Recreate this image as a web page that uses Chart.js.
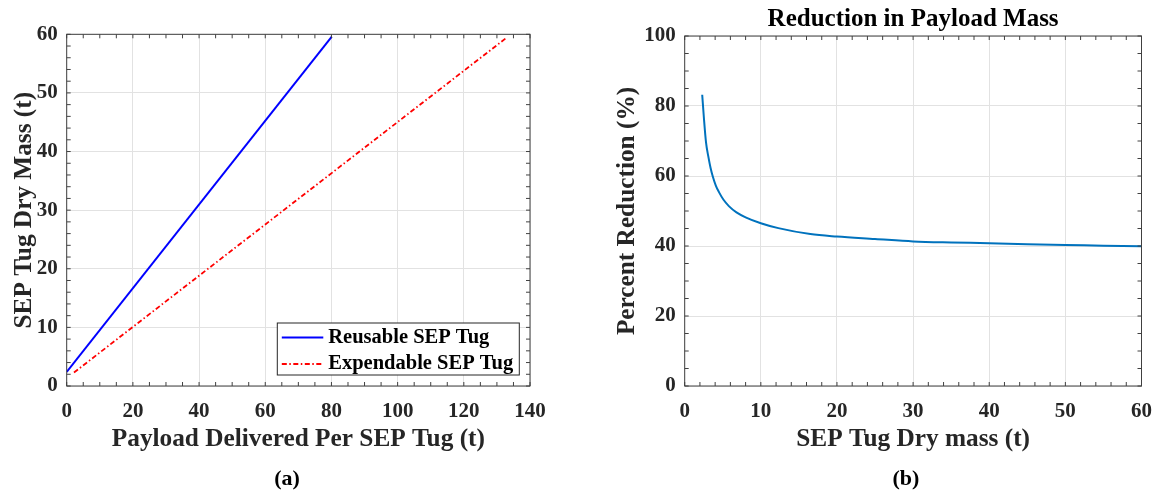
<!DOCTYPE html>
<html>
<head>
<meta charset="utf-8">
<script src="https://cdn.jsdelivr.net/npm/chart.js@4/dist/chart.umd.min.js"></script>
<style>
  body { margin: 0; background: #fff; width: 1165px; height: 492px; position: relative; overflow: hidden; }
  canvas { position: absolute; top: 0; }
  #chartA { left: 0; }
  #chartB { left: 600px; }
  .cap { position: absolute; top: 465px; width: 100px; height: 30px; line-height: 30px; text-align: center;
         font: bold 22px 'Liberation Serif', 'Times New Roman', serif; color: #000; }
</style>
</head>
<body>
<canvas id="chartA" width="580" height="470"></canvas>
<canvas id="chartB" width="565" height="470"></canvas>
<div class="cap" style="left:237px">(a)</div>
<div class="cap" style="left:856px">(b)</div>
<script>
// (a) dry mass vs payload, straight lines
var reusablePayload = [0, 80.1];
var reusableDryMass = [2.4, 59.6];
var expendablePayload = [2.2, 133.1];
var expendableDryMass = [2.3, 59.5];
var xTicksA = [0, 20, 40, 60, 80, 100, 120, 140];
var yTicksA = [0, 10, 20, 30, 40, 50, 60];

// (b) percent reduction in payload vs tug dry mass
var tugDryMass = [2.3, 2.5, 2.8, 3.1, 3.4, 3.7, 4.1, 4.5, 5.1, 5.8, 6.8, 8, 10, 12.3, 16.5, 20, 25, 30, 35, 40, 45, 50, 55, 60];
var percentReduction = [83.2, 77.2, 69.6, 65.6, 62.3, 59.8, 57.2, 55.4, 53.2, 51.4, 49.6, 48.2, 46.5, 45.1, 43.4, 42.7, 42.0, 41.3, 41.0, 40.8, 40.5, 40.3, 40.1, 39.9];
var xTicksB = [0, 10, 20, 30, 40, 50, 60];
var yTicksB = [0, 20, 40, 60, 80, 100];

var FONT = "'Liberation Serif', 'Times New Roman', serif";
Chart.defaults.font.family = FONT;
Chart.defaults.color = '#262626';

function pts(xs, ys) {
	var out = [];
	for (var i in xs) out.push({x: xs[i], y: ys[i]});
	return out;
}

// matlab-ish box: frame plus inward ticks on all four sides
var frameTicks = {
	id: 'frameTicks',
	afterDraw: function(chart, args, opts) {
		var ctx = chart.ctx, a = chart.chartArea;
		var x = chart.scales.x, y = chart.scales.y;
		var len = 4, v, p;
		ctx.save();
		ctx.strokeStyle = '#404040';
		ctx.lineWidth = 1;
		ctx.beginPath();
		for (v = x.min; v <= x.max + 1e-6; v += opts.xMinor) {
			p = x.getPixelForValue(v);
			ctx.moveTo(p, a.bottom); ctx.lineTo(p, a.bottom - len);
			ctx.moveTo(p, a.top); ctx.lineTo(p, a.top + len);
		}
		for (v = y.min; v <= y.max + 1e-6; v += opts.yMinor) {
			p = y.getPixelForValue(v);
			ctx.moveTo(a.left, p); ctx.lineTo(a.left + len, p);
			ctx.moveTo(a.right, p); ctx.lineTo(a.right - len, p);
		}
		ctx.stroke();
		ctx.strokeRect(a.left, a.top, a.right - a.left, a.bottom - a.top);
		ctx.restore();
	}
};

// legend box sitting inside the plot, lower right
var boxLegend = {
	id: 'boxLegend',
	afterDraw: function(chart, args, opts) {
		if (!opts.show) return;
		var ctx = chart.ctx, a = chart.chartArea;
		var right = a.right - opts.marginRight, bottom = a.bottom - opts.marginBottom;
		var left = right - opts.width, top = bottom - opts.height;
		ctx.save();
		ctx.fillStyle = '#fff';
		ctx.fillRect(left, top, opts.width, opts.height);
		ctx.strokeStyle = '#262626';
		ctx.lineWidth = 1;
		ctx.strokeRect(left, top, opts.width, opts.height);
		ctx.font = 'bold 20.5px ' + FONT;
		ctx.textBaseline = 'middle';
		ctx.fillStyle = '#000';
		chart.data.datasets.forEach(function(ds, i) {
			var cy = top + opts.rowY[i];
			ctx.strokeStyle = ds.borderColor;
			ctx.lineWidth = ds.borderWidth;
			ctx.setLineDash(ds.borderDash || []);
			ctx.beginPath();
			ctx.moveTo(left + 4.5, cy);
			ctx.lineTo(left + 46, cy);
			ctx.stroke();
			ctx.setLineDash([]);
			ctx.fillText(ds.label, left + 51, cy);
		});
		ctx.restore();
	}
};

function axis(min, max, ticks, title, fitSize, horizontal, titlePad) {
	return {
		type: 'linear', min: min, max: max,
		afterBuildTicks: function(s) { s.ticks = ticks.map(function(v) { return {value: v}; }); },
		afterFit: function(s) { if (horizontal) s.height = fitSize; else s.width = fitSize; },
		grid: { color: '#e2e2e2', drawTicks: false },
		border: { display: false },
		ticks: { font: {size: 21, weight: 'bold'}, color: '#262626', padding: horizontal ? 13 : 9 },
		title: { display: true, text: title, color: '#262626', font: {size: 25.3, weight: 'bold'}, padding: titlePad }
	};
}

var barGraph = new Chart(document.getElementById('chartA'), {
	type: 'line',
	data: {
		datasets: [
			{ label: 'Reusable SEP Tug', data: pts(reusablePayload, reusableDryMass), borderColor: '#0000ff', borderWidth: 2 },
			{ label: 'Expendable SEP Tug', data: pts(expendablePayload, expendableDryMass), borderColor: '#ff0000', borderWidth: 1.8, borderDash: [5, 2.5, 1.5, 2.5] }
		]
	},
	options: {
		responsive: false, animation: false, devicePixelRatio: 1,
		layout: { autoPadding: false, padding: {top: 34.3, right: 50, left: 0, bottom: 0} },
		elements: { point: {radius: 0} },
		plugins: {
			legend: {display: false}, tooltip: {enabled: false},
			frameTicks: {xMinor: 5, yMinor: 2},
			boxLegend: {show: true, marginRight: 10.7, marginBottom: 11, width: 242, height: 52, rowY: [14.5, 41]}
		},
		scales: {
			x: axis(0, 140, xTicksA, 'Payload Delivered Per SEP Tug (t)', 84, true, {top: 0, bottom: 15}),
			y: axis(0, 60, yTicksA, 'SEP Tug Dry Mass (t)', 66.7, false, {top: 9, bottom: 0})
		}
	},
	plugins: [frameTicks, boxLegend]
});

var reductionGraph = new Chart(document.getElementById('chartB'), {
	type: 'line',
	data: {
		datasets: [
			{ label: 'Reduction', data: pts(tugDryMass, percentReduction), borderColor: '#0072bd', borderWidth: 2, cubicInterpolationMode: 'monotone' }
		]
	},
	options: {
		responsive: false, animation: false, devicePixelRatio: 1,
		layout: { autoPadding: false, padding: {top: 0, right: 15, left: 0, bottom: 0} },
		elements: { point: {radius: 0} },
		plugins: {
			legend: {display: false}, tooltip: {enabled: false},
			title: { display: true, fullSize: false, text: 'Reduction in Payload Mass', color: '#000',
				font: {size: 25, weight: 'bold'}, padding: {top: 4.5, bottom: 1.5} },
			frameTicks: {xMinor: 2, yMinor: 5},
			boxLegend: {show: false}
		},
		scales: {
			x: axis(0, 60, xTicksB, 'SEP Tug Dry mass (t)', 84, true, {top: 0, bottom: 15}),
			y: axis(0, 100, yTicksB, 'Percent Reduction (%)', 84.7, false, {top: 12, bottom: 0})
		}
	},
	plugins: [frameTicks, boxLegend]
});
</script>
</body>
</html>
